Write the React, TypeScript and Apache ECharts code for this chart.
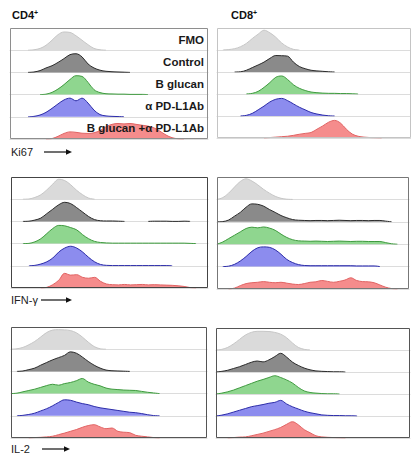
import React, { useEffect, useRef } from "react";
import * as echarts from "echarts";

// fluorescence bins (percent of the panel's x range)
const BINS = [0, 3, 6, 9, 12, 15, 18, 21, 24, 27, 30, 33, 36, 39, 42, 45, 48, 51, 54, 57, 60, 63, 66, 69, 72, 75, 78, 81, 84, 87, 90, 93, 96, 99];

const GROUPS = ["FMO", "Control", "B glucan", "α PD-L1Ab", "B glucan +α PD-L1Ab"];
const MARKERS = ["Ki67", "IFN-γ", "IL-2"];
const CELLS = ["CD4", "CD8"];

// ---- Ki67, CD4+
const KI67_CD4_FMO = [0,0,0,0,2,8,22,45,70,82,80,65,45,25,8,2,0,0,0,0,0,0,0,0,0,0,0,0,0,0,0,0,0,0];
const KI67_CD4_CTRL = [0,0,0,0,2,8,20,30,45,62,80,84,70,38,20,10,5,3,2,1,0,0,0,0,0,0,0,0,0,0,0,0,0,0];
const KI67_CD4_BG = [0,0,0,0,0,0,2,10,25,45,68,85,82,55,22,9,4,3,2,2,1,1,1,0,0,0,0,0,0,0,0,0,0,0];
const KI67_CD4_PDL1 = [0,0,0,0,2,8,20,38,58,76,84,72,84,62,30,10,4,2,1,0,0,0,0,0,0,0,0,0,0,0,0,0,0,0];
const KI67_CD4_COMBO = [0,0,0,0,0,0,0,2,12,25,32,30,26,25,28,38,55,66,70,68,70,66,62,58,50,35,18,6,1,0,0,0,0,0];
// ---- Ki67, CD8+
const KI67_CD8_FMO = [0,0,2,6,15,30,52,72,90,78,58,32,14,3,0,0,0,0,0,0,0,0,0,0,0,0,0,0,0,0,0,0,0,0];
const KI67_CD8_CTRL = [0,0,0,0,1,8,20,32,45,62,75,74,72,45,25,15,8,5,3,1,0,0,0,0,0,0,0,0,0,0,0,0,0,0];
const KI67_CD8_BG = [0,0,0,0,0,0,3,12,30,52,76,82,66,42,26,16,9,6,4,3,3,2,2,1,0,0,0,0,0,0,0,0,0,0];
const KI67_CD8_PDL1 = [0,0,0,0,0,3,12,28,45,64,76,80,70,55,40,28,16,9,4,1,0,0,0,0,0,0,0,0,0,0,0,0,0,0];
const KI67_CD8_COMBO = [0,0,0,0,0,0,0,0,0,2,4,6,8,12,17,21,25,40,55,72,80,68,40,18,8,4,2,1,0,0,0,0,0,0];
// ---- IFN-γ, CD4+
const IFN_CD4_FMO = [0,0,0,1,8,20,42,68,90,84,65,40,20,5,0,0,0,0,0,0,0,0,0,0,0,0,0,0,0,0,0,0,0,0];
const IFN_CD4_CTRL = [0,0,0,1,6,15,35,55,75,86,80,62,42,22,8,3,2,2,1,0,0,0,0,0,1,1,1,0,0,1,0,0,0,0];
const IFN_CD4_BG = [0,0,0,1,8,22,45,68,82,80,72,62,40,22,10,5,3,2,2,2,2,2,2,2,2,2,2,2,2,2,1,0,0,0];
const IFN_CD4_PDL1 = [0,0,0,0,2,8,18,35,62,80,88,80,62,38,18,6,2,1,1,1,1,1,1,1,1,1,1,0,0,0,0,0,0,0];
const IFN_CD4_COMBO = [0,0,0,0,0,0,3,15,35,66,58,60,48,44,48,30,18,15,14,16,14,15,16,14,15,14,13,12,10,7,2,0,0,0];
// ---- IFN-γ, CD8+
const IFN_CD8_FMO = [0,8,28,55,80,92,82,65,45,28,14,5,1,0,0,0,0,0,0,0,0,0,0,0,0,0,0,0,0,0,0,0,0,0];
const IFN_CD8_CTRL = [0,1,8,25,42,65,80,78,70,55,42,28,18,10,7,6,5,6,6,5,6,7,6,5,6,6,5,6,6,3,0,0,0,0];
const IFN_CD8_BG = [0,10,25,40,55,70,76,73,77,72,62,45,30,20,15,14,13,14,13,12,13,14,13,12,13,13,12,12,12,7,2,0,0,0];
const IFN_CD8_PDL1 = [0,0,2,10,25,45,68,84,88,86,75,55,32,18,9,5,4,4,4,4,4,4,4,4,3,3,3,3,0,0,0,0,0,0];
const IFN_CD8_COMBO = [0,0,0,4,15,24,28,30,33,30,28,30,26,22,20,24,30,32,38,34,30,34,40,50,38,33,32,28,18,8,2,0,0,0];
// ---- IL-2, CD4+
const IL2_CD4_FMO = [0,2,8,20,35,55,75,86,88,87,84,74,55,32,12,2,0,0,0,0,0,0,0,0,0,0,0,0,0,0,0,0,0,0];
const IL2_CD4_CTRL = [0,0,2,8,15,28,40,52,62,72,88,82,65,45,28,15,6,3,2,1,0,0,0,0,0,0,0,0,0,0,0,0,0,0];
const IL2_CD4_BG = [0,2,8,14,20,28,36,42,38,45,50,58,68,52,42,35,25,20,18,16,15,14,10,6,3,0,0,0,0,0,0,0,0,0];
const IL2_CD4_PDL1 = [0,0,2,6,12,22,32,45,60,72,70,62,55,50,42,36,32,28,24,20,16,14,10,5,1,0,0,0,0,0,0,0,0,0];
const IL2_CD4_COMBO = [0,0,0,0,2,3,5,8,15,22,30,38,48,56,60,50,42,45,30,26,24,12,8,5,2,0,0,0,0,0,0,0,0,0];
// ---- IL-2, CD8+
const IL2_CD8_FMO = [0,3,12,28,48,68,80,85,85,84,80,72,56,32,12,3,0,0,0,0,0,0,0,0,0,0,0,0,0,0,0,0,0,0];
const IL2_CD8_CTRL = [0,3,8,16,24,34,44,50,46,55,70,85,68,45,30,18,10,5,3,2,1,1,0,0,0,0,0,0,0,0,0,0,0,0];
const IL2_CD8_BG = [0,4,10,18,28,38,48,58,66,75,83,75,64,50,30,14,7,4,2,1,1,0,0,0,0,0,0,0,0,0,0,0,0,0];
const IL2_CD8_PDL1 = [0,4,10,18,26,34,42,47,52,58,62,71,55,42,32,22,15,10,5,3,2,2,1,1,0,0,0,0,0,0,0,0,0,0];
const IL2_CD8_COMBO = [0,0,0,2,4,5,10,16,22,30,38,48,62,74,60,38,24,10,5,3,2,1,0,0,0,0,0,0,0,0,0,0,0,0];

const PANEL_DATA = [
  [KI67_CD4_FMO, KI67_CD4_CTRL, KI67_CD4_BG, KI67_CD4_PDL1, KI67_CD4_COMBO],
  [KI67_CD8_FMO, KI67_CD8_CTRL, KI67_CD8_BG, KI67_CD8_PDL1, KI67_CD8_COMBO],
  [IFN_CD4_FMO, IFN_CD4_CTRL, IFN_CD4_BG, IFN_CD4_PDL1, IFN_CD4_COMBO],
  [IFN_CD8_FMO, IFN_CD8_CTRL, IFN_CD8_BG, IFN_CD8_PDL1, IFN_CD8_COMBO],
  [IL2_CD4_FMO, IL2_CD4_CTRL, IL2_CD4_BG, IL2_CD4_PDL1, IL2_CD4_COMBO],
  [IL2_CD8_FMO, IL2_CD8_CTRL, IL2_CD8_BG, IL2_CD8_PDL1, IL2_CD8_COMBO],
];

// styling / layout
const FILL = ["#dadada", "#8a8a8a", "#8fd68f", "#8c8cee", "#f58c8c"];
const LINE = ["#c6c6c6", "#2b2b2b", "#3f9a3f", "#2c2ca8", "#e06464"];
const PANELS = [
  { l: 10, t: 28, r: 208, b: 139, stroke: "#8e8e8e" },
  { l: 217, t: 28, r: 411, b: 138, stroke: "#c4c4c4" },
  { l: 11, t: 177, r: 208, b: 288, stroke: "#444444" },
  { l: 217, t: 177, r: 409, b: 289, stroke: "#777777" },
  { l: 11, t: 327, r: 207, b: 438, stroke: "#555555" },
  { l: 216, t: 328, r: 410, b: 438, stroke: "#555555" },
];
const MARKER_POS = [
  { y: 152, a0: 44, a1: 72 },
  { y: 300, a0: 41, a1: 72 },
  { y: 449, a0: 42, a1: 70 },
];
const FONT = "'Liberation Sans', Arial, Helvetica, sans-serif";

// empty stretches of the histogram are left undrawn (no outline along the baseline)
function trimEmpty(vals: number[]) {
  return vals.map((v, i) => {
    const prev = i > 0 ? vals[i - 1] : 0;
    const next = i < vals.length - 1 ? vals[i + 1] : 0;
    return v === 0 && prev === 0 && next === 0 ? null : v;
  });
}

export default function App() {
  const ref = useRef<HTMLDivElement>(null);
  useEffect(() => {
    if (!ref.current) return;
    const chart = echarts.init(ref.current, null, { renderer: "svg" });
    const grid: any[] = [];
    const xAxis: any[] = [];
    const yAxis: any[] = [];
    const series: any[] = [];
    const graphic: any[] = [];

    PANELS.forEach((p, pi) => {
      const h = (p.b - p.t) / 5;
      PANEL_DATA[pi].forEach((vals, ri) => {
        const gi = grid.length;
        grid.push({ left: p.l, top: p.t + h * ri, width: p.r - p.l, height: h, containLabel: false });
        xAxis.push({
          type: "category", gridIndex: gi, data: BINS, boundaryGap: false,
          axisLine: { show: true, lineStyle: { color: "#dcdcdc", width: 1 } },
          axisTick: { show: false }, axisLabel: { show: false }, splitLine: { show: false },
        });
        yAxis.push({ type: "value", gridIndex: gi, min: 0, max: 100, show: false });
        series.push({
          type: "line", xAxisIndex: gi, yAxisIndex: gi, data: trimEmpty(vals), smooth: 0.35,
          symbol: "none", silent: true, connectNulls: false,
          lineStyle: { color: LINE[ri], width: 1 },
          areaStyle: { color: FILL[ri], opacity: 1 },
        });
      });
      graphic.push({
        type: "rect", z: 50, silent: true,
        shape: { x: p.l + 0.5, y: p.t + 0.5, width: p.r - p.l - 1, height: p.b - p.t - 1 },
        style: { fill: "none", stroke: p.stroke, lineWidth: 1 },
      });
    });

    // group labels inside the Ki67 CD4 panel
    const p0 = PANELS[0];
    const h0 = (p0.b - p0.t) / 5;
    GROUPS.forEach((g, i) => {
      graphic.push({
        type: "text", z: 100, x: p0.r - 4, y: p0.t + h0 * i + h0 / 2 + 0.5,
        style: { text: g, fill: "#1a1a1a", font: `bold 11.5px ${FONT}`, textAlign: "right", textVerticalAlign: "middle" },
      });
    });

    // column titles
    CELLS.forEach((c, i) => {
      graphic.push({
        type: "text", z: 100, x: i === 0 ? 12 : 231, y: 15,
        style: {
          text: `{a|${c}}{b|+}`, textVerticalAlign: "middle",
          rich: {
            a: { fontFamily: FONT, fontWeight: "bold", fontSize: 11, fill: "#111" },
            b: { fontFamily: FONT, fontWeight: "bold", fontSize: 7, fill: "#111", verticalAlign: "top", padding: [0, 0, 6, 0] },
          },
        },
      });
    });

    // marker axis labels with arrows
    MARKERS.forEach((m, i) => {
      const mp = MARKER_POS[i];
      graphic.push({
        type: "text", z: 100, x: 11, y: mp.y,
        style: { text: m, fill: "#222", font: `11px ${FONT}`, textVerticalAlign: "middle" },
      });
      graphic.push({
        type: "line", z: 100, shape: { x1: mp.a0, y1: mp.y, x2: mp.a1 - 5, y2: mp.y },
        style: { stroke: "#111", lineWidth: 1.2 },
      });
      graphic.push({
        type: "polygon", z: 100,
        shape: { points: [[mp.a1, mp.y], [mp.a1 - 6, mp.y - 2.8], [mp.a1 - 6, mp.y + 2.8]] },
        style: { fill: "#111" },
      });
    });

    chart.setOption({
      animation: false,
      backgroundColor: "#ffffff",
      grid, xAxis, yAxis, series, graphic,
    });
    return () => chart.dispose();
  }, []);

  return (
    <div
      ref={ref}
      style={{ position: "fixed", left: 0, top: 0, width: 411, height: 464, background: "#fff" }}
    />
  );
}
